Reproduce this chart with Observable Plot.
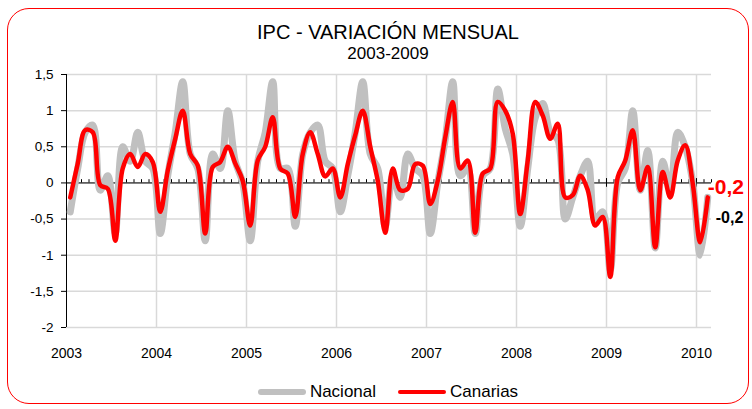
<!DOCTYPE html>
<html><head><meta charset="utf-8">
<script src="https://cdn.jsdelivr.net/npm/d3@7"></script>
<script src="https://cdn.jsdelivr.net/npm/@observablehq/plot@0.6"></script>
<style>
html,body{margin:0;padding:0;background:#fff;}
#wrap{position:relative;width:752px;height:409px;overflow:hidden;font-family:"Liberation Sans",Arial,sans-serif;}
#frame{position:absolute;left:7px;top:8px;width:742px;height:396px;border:1px solid #ff0000;border-radius:22px;box-sizing:border-box;}
.t{position:absolute;left:24px;width:728px;text-align:center;color:#000;}
#t1{top:20px;font-size:20px;line-height:24px;}
#t2{top:44px;font-size:17px;line-height:20px;}
#chart{position:absolute;left:0;top:64px;}
#legend{position:absolute;top:381px;left:24px;width:728px;display:flex;justify-content:center;align-items:center;font-size:17px;line-height:22px;}
.sw{display:inline-block;width:48px;height:0;margin-right:4px;border-radius:3px;}
.item{display:flex;align-items:center;margin:0 11px;}
</style></head>
<body><div id="wrap">
<div id="frame"></div>
<div class="t" id="t1">IPC - VARIACIÓN MENSUAL</div>
<div class="t" id="t2">2003-2009</div>
<div id="chart"></div>
<div id="legend">
  <div class="item"><span class="sw" style="border-top:6px solid #c0c0c0"></span><span>Nacional</span></div>
  <div class="item"><span class="sw" style="border-top:4px solid #ff0000"></span><span>Canarias</span></div>
</div>
</div>
<script>
// Monthly CPI variation (%), Jan 2003 .. Feb 2010
const nacional = [
 -0.4, 0.2, 0.7, 0.8, -0.1, 0.1, -0.7, 0.5, 0.3, 0.7, 0.3, 0.2,
 -0.7, 0.1, 0.7, 1.4, 0.4, 0.2, -0.8, 0.4, 0.2, 1.0, 0.3, 0.0,
 -0.8, 0.3, 0.7, 1.4, 0.2, 0.2, -0.6, 0.4, 0.7, 0.8, 0.3, 0.2,
 -0.4, 0.1, 0.7, 1.4, 0.4, 0.2, -0.6, 0.1, -0.2, 0.4, 0.2, 0.1,
 -0.7, 0.0, 0.6, 1.4, 0.1, 0.2, -0.7, 0.1, 0.2, 1.3, 0.75, 0.4,
 -0.6, 0.2, 0.9, 1.1, 0.7, 0.6, -0.5, -0.2, 0.1, 0.3, -0.5, -0.4,
 -1.2, 0.0, 0.2, 1.0, -0.1, 0.45, -0.9, 0.3, -0.1, 0.7, 0.5, 0.0,
 -1.0, -0.2
];
const canarias = [
 -0.2, 0.27, 0.73, 0.7, -0.03, -0.08, -0.8, 0.2, 0.4, 0.22, 0.4, 0.29,
 -0.4, 0.17, 0.61, 1.0, 0.4, 0.24, -0.7, 0.22, 0.29, 0.5, 0.27, 0.03,
 -0.59, 0.31, 0.5, 0.91, 0.2, 0.13, -0.47, 0.4, 0.7, 0.4, 0.09, 0.2,
 -0.2, 0.26, 0.66, 1.0, 0.5, 0.03, -0.69, 0.2, -0.1, -0.08, 0.26, 0.24,
 -0.29, 0.03, 0.63, 1.12, 0.2, 0.31, -0.69, 0.13, 0.2, 1.12, 1.0, 0.68,
 -0.43, 0.31, 1.12, 0.93, 0.61, 0.82, -0.2, -0.17, 0.1, -0.1, -0.59, -0.47,
 -1.3, 0.08, 0.31, 0.73, -0.1, 0.22, -0.89, 0.15, -0.2, 0.31, 0.52, -0.01,
 -0.82, -0.2
];
const years = [2003, 2004, 2005, 2006, 2007, 2008, 2009, 2010];
const yTicks = [-2, -1.5, -1, -0.5, 0, 0.5, 1, 1.5];
const seriesNames = ["Nacional", "Canarias"];
const startYear = 2003;

const fmt = v => String(v).replace(".", ",");
const nMonths = nacional.length;
const rows = [];
nacional.forEach((v, i) => rows.push({s: seriesNames[0], m: i + 0.5, v}));
canarias.forEach((v, i) => rows.push({s: seriesNames[1], m: i + 0.5, v}));
const yearPos = years.map(y => (y - startYear) * 12);
const monthPos = d3.range(0, nMonths + 1);
const lastNac = {m: nMonths - 0.5, v: nacional[nMonths - 1]};
const lastCan = {m: nMonths - 0.5, v: canarias[nMonths - 1]};

const chart = Plot.plot({
  width: 752, height: 300,
  marginLeft: 66, marginRight: 41, marginTop: 10, marginBottom: 37,
  style: {fontFamily: "Liberation Sans, Arial, sans-serif", fontSize: "14px", color: "#000", background: "transparent"},
  x: {domain: [0, nMonths], axis: null},
  y: {domain: [-2, 1.5], axis: null},
  marks: [
    Plot.ruleY(yTicks, {stroke: "#d9d9d9", strokeWidth: 1.5}),
    Plot.ruleX(yearPos.slice(1), {stroke: "#d9d9d9", strokeWidth: 1.5}),
    Plot.axisY({ticks: yTicks, tickFormat: fmt, tickSize: 5, tickPadding: 8, stroke: "#000", fontSize: 13.5, label: null}),
    Plot.axisX({ticks: yearPos, tickFormat: d => String(startYear + d / 12), tickSize: 0, tickPadding: 21, fontSize: 14, label: null}),
    Plot.ruleX([0], {stroke: "#000", strokeWidth: 1}),
    Plot.ruleY([0], {stroke: "#000", strokeWidth: 1}),
    Plot.ruleX(monthPos, {x: d => d, y1: 0, y2: 0.045, stroke: "#000", strokeWidth: 1}),
    Plot.ruleX(yearPos, {x: d => d, y1: -0.06, y2: 0.06, stroke: "#000", strokeWidth: 1}),
    Plot.line(rows.filter(d => d.s === seriesNames[0]), {x: "m", y: "v", stroke: "#c0c0c0", strokeWidth: 7, curve: "catmull-rom"}),
    Plot.line(rows.filter(d => d.s === seriesNames[1]), {x: "m", y: "v", stroke: "#ff0000", strokeWidth: 4.5, curve: "catmull-rom"}),
    Plot.text([lastCan], {x: "m", y: "v", text: d => fmt(d.v), fill: "#ff0000", fontWeight: "bold", fontSize: 21, textAnchor: "start", dx: 0, dy: -10}),
    Plot.text([lastNac], {x: "m", y: "v", text: d => fmt(d.v), fill: "#000", fontWeight: "bold", fontSize: 16, textAnchor: "start", dx: 8, dy: 20})
  ]
});
document.getElementById("chart").appendChild(chart);
</script>
</body></html>
